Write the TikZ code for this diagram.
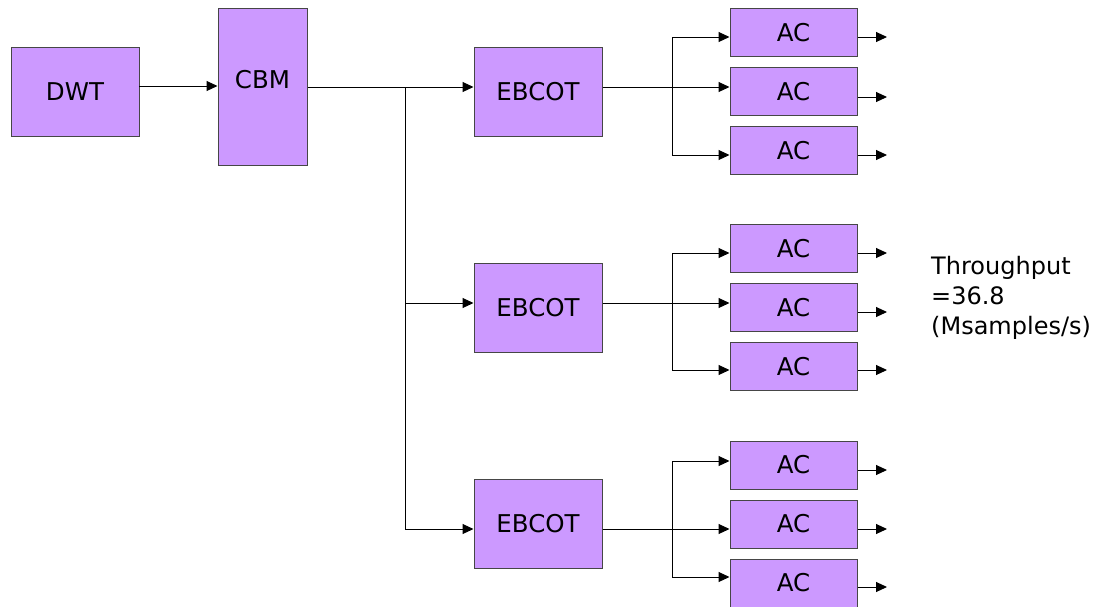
\documentclass[tikz,border=0pt]{standalone}
\usepackage{fontspec}
\setmainfont{DejaVu Sans}
\usetikzlibrary{arrows.meta}
\definecolor{boxfill}{RGB}{204,153,255}
\definecolor{boxline}{RGB}{70,70,70}
\tikzset{
  blk/.style={draw=boxline, line width=1pt, fill=boxfill, rectangle, inner sep=0pt,
    font=\fontsize{24.5}{28}\selectfont},
  conn/.style={line width=1pt, draw=black},
  arr/.style={conn, -{Triangle[length=11pt,width=10pt]}},
}
\begin{document}
\begin{tikzpicture}[x=1pt,y=-1pt]
\useasboundingbox (0,0) rectangle (1103,606);
% first stage
\node[blk, minimum width=128pt, minimum height=89pt] (DWT) at (75,91.5) {DWT};
\node[blk, minimum width=89pt, minimum height=157pt] (CBM) at (262.5,86.5) {};
\node[font=\fontsize{24.5}{28}\selectfont] (CBMt) at (262.5,80) {CBM};
% EBCOT
\node[blk, minimum width=128pt, minimum height=89pt] (E1) at (538,91.5) {EBCOT};
\node[blk, minimum width=128pt, minimum height=89pt] (E2) at (538,307.5) {EBCOT};
\node[blk, minimum width=128pt, minimum height=89pt] (E3) at (538,523.5) {EBCOT};
% AC boxes
\foreach \n/\y in {A1/32.5, A2/91.5, A3/150.5, B1/248.5, B2/307.5, B3/366.5, C1/465, C2/524, C3/583}{
  \node[blk, minimum width=127pt, minimum height=48pt] (\n) at (793.5,\y) {AC};
}
% DWT -> CBM
\coordinate (d1) at (139,86);
\draw[arr] (d1) -- (d1 -| CBM.west);
% bus
\coordinate (bus) at (405,87);
\coordinate (busb) at (405,529);
\draw[conn] (bus -| CBM.east) -- (bus) -- (busb);
\draw[arr] (bus) -- (bus -| E1.west);
\draw[arr] (405,303) coordinate (b2) -- (b2 -| E2.west);
\draw[arr] (busb) -- (busb -| E3.west);
% group 1
\coordinate (g1) at (672,87);
\draw[conn] (g1 -| E1.east) -- (g1);
\draw[conn] (672,37) -- (672,155);
\draw[arr] (672,37) coordinate (a1) -- (a1 -| A1.west);
\draw[arr] (g1) -- (g1 -| A2.west);
\draw[arr] (672,155) coordinate (a3) -- (a3 -| A3.west);
% group 2
\coordinate (g2) at (672,303);
\draw[conn] (g2 -| E2.east) -- (g2);
\draw[conn] (672,253) -- (672,370);
\draw[arr] (672,253) coordinate (c1) -- (c1 -| B1.west);
\draw[arr] (g2) -- (g2 -| B2.west);
\draw[arr] (672,370) coordinate (c3) -- (c3 -| B3.west);
% group 3
\coordinate (g3) at (672,529);
\draw[conn] (g3 -| E3.east) -- (g3);
\draw[conn] (672,461) -- (672,577);
\draw[arr] (672,461) coordinate (e1) -- (e1 -| C1.west);
\draw[arr] (g3) -- (g3 -| C2.west);
\draw[arr] (672,577) coordinate (e3) -- (e3 -| C3.west);
% outputs
\foreach \n/\y in {A1/37, A2/97, A3/155, B1/253, B2/312, B3/370, C1/470, C2/529, C3/587}{
  \coordinate (o\n) at (887,\y);
  \draw[arr] (o\n -| \n.east) -- (o\n);
}
% throughput
\node[anchor=north west, align=left, inner sep=0pt, font=\fontsize{24}{30}\selectfont] (tp) at (931,256) {Throughput\\=36.8\\(Msamples/s)};
\end{tikzpicture}
\end{document}
